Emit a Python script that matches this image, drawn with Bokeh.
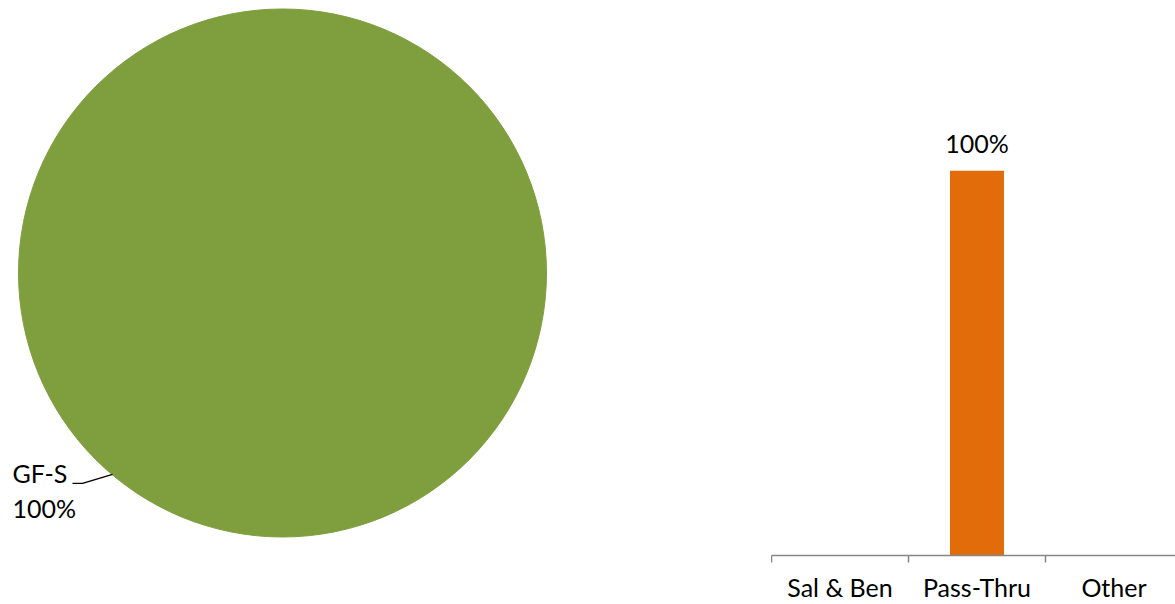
import math
from bokeh.plotting import figure
from bokeh.layouts import row
from bokeh.models import Range1d, FixedTicker, ColumnDataSource, LabelSet
from bokeh.core.properties import value
from bokeh.embed import file_html
from bokeh.resources import INLINE

# ---- data ----
pie_categories = ["GF-S"]
pie_values = [1.0]
bar_categories = ["Sal & Ben", "Pass-Thru", "Other"]
bar_values = [0.0, 1.0, 0.0]

FONT = "Lato"
GREEN = "#7F9F3F"
ORANGE = "#E36C0A"

W1, H = 771, 604
FRAME_BOTTOM = 554  # frames in a row are aligned with the bar chart's frame

# ---- pie figure (coordinates equal page pixels) ----
p1 = figure(width=W1, height=H, output_backend="svg", toolbar_location=None,
            x_range=Range1d(0, W1), y_range=Range1d(FRAME_BOTTOM, 0),
            x_axis_location=None, y_axis_location=None,
            min_border=0, outline_line_color=None)
p1.grid.visible = False

cx, cy, r = 282, 272, 264
total = sum(pie_values)
starts, ends = [], []
acc = 0.0
for v in pie_values:
    starts.append(acc / total * 2 * math.pi)
    acc += v
    ends.append(acc / total * 2 * math.pi)
src1 = ColumnDataSource(dict(start=starts, end=ends, cat=pie_categories))
p1.wedge(x=cx, y=cy, radius=r, radius_units="screen", start_angle="start", end_angle="end",
         source=src1, fill_color=GREEN, line_color=GREEN)

# leader line and label
p1.line(x=[72, 82, 112], y=[482, 482, 473], line_color="black", line_width=1.4)
p1.text(x=[12], y=[472], text=[pie_categories[0]], text_font=value(FONT),
        text_font_size="25px", text_align="left", text_baseline="middle", text_color="black")
p1.text(x=[12], y=[507], text=[f"{pie_values[0] / total:.0%}"], text_font=value(FONT),
        text_font_size="25px", text_align="left", text_baseline="middle", text_color="black")

# ---- bar figure ----
CAT_W = 137
W2 = 1175 - W1
p2 = figure(width=W2, height=H, output_backend="svg", toolbar_location=None,
            x_range=Range1d(0, W2 / CAT_W), y_range=Range1d(0, FRAME_BOTTOM / 384),
            y_axis_location=None,
            min_border_left=0, min_border_right=0, min_border_top=0, min_border_bottom=0,
            outline_line_color=None)
p2.grid.visible = False

xs = [i + 0.5 for i in range(len(bar_categories))]
src2 = ColumnDataSource(dict(x=xs, top=bar_values,
                             lbl=[f"{v:.0%}" if v > 0 else "" for v in bar_values]))
p2.vbar(x="x", top="top", width=54 / CAT_W, bottom=0, source=src2,
        fill_color=ORANGE, line_color=None)
p2.add_layout(LabelSet(x="x", y="top", text="lbl", source=src2, y_offset=28,
                       text_align="center", text_baseline="middle",
                       text_font=value(FONT), text_font_size="25px", text_color="black"))

ax = p2.xaxis[0]
ax.ticker = FixedTicker(ticks=xs, minor_ticks=list(range(len(bar_categories) + 1)))
ax.major_label_overrides = {x: c for x, c in zip(xs, bar_categories)}
ax.major_tick_line_color = None
ax.major_tick_out = 0
ax.major_tick_in = 0
ax.minor_tick_out = 7
ax.minor_tick_in = 0
ax.minor_tick_line_color = "#868686"
ax.axis_line_color = "#868686"
ax.axis_line_width = 1.5
ax.minor_tick_line_width = 1.5
ax.major_label_standoff = 9
ax.major_label_text_font = FONT
ax.major_label_text_font_size = "25px"
ax.major_label_text_color = "black"

layout = row(p1, p2)
open("out.html", "w").write(file_html(layout, INLINE))
